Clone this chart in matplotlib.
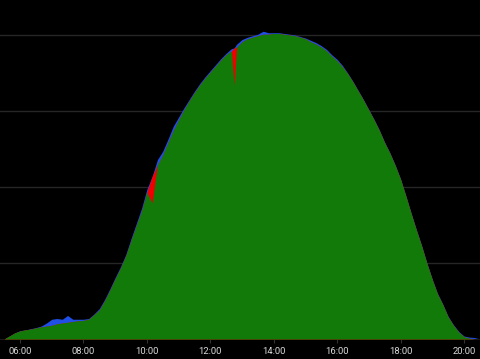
import matplotlib
matplotlib.use("Agg")
import matplotlib.pyplot as plt
import numpy as np

times = ["05:30", "05:40", "05:50", "06:00", "06:10", "06:20", "06:30", "06:40", "06:50",
         "07:00", "07:10", "07:20", "07:30", "07:40", "07:50", "08:00", "08:10", "08:20",
         "08:30", "08:40", "08:50", "09:00", "09:10", "09:20", "09:30", "09:40", "09:50",
         "10:00", "10:10", "10:20", "10:30", "10:40", "10:50", "11:00", "11:10", "11:20",
         "11:30", "11:40", "11:50", "12:00", "12:10", "12:20", "12:30", "12:40", "12:45",
         "12:50", "13:00", "13:10", "13:20", "13:30", "13:40", "13:50", "14:00", "14:10",
         "14:20", "14:30", "14:40", "14:50", "15:00", "15:10", "15:20", "15:30", "15:40",
         "15:50", "16:00", "16:10", "16:20", "16:30", "16:40", "16:50", "17:00", "17:10",
         "17:20", "17:30", "17:40", "17:50", "18:00", "18:10", "18:20", "18:30", "18:40",
         "18:50", "19:00", "19:10", "19:20", "19:30", "19:40", "19:50", "20:00", "20:10",
         "20:20", "20:30"]

green = [0.00, 0.04, 0.08, 0.105, 0.12, 0.13, 0.145, 0.16, 0.17,
         0.18, 0.20, 0.21, 0.22, 0.23, 0.24, 0.245, 0.26, 0.32,
         0.38, 0.50, 0.64, 0.79, 0.93, 1.09, 1.29, 1.49, 1.68,
         1.93, 1.79, 2.29, 2.42, 2.58, 2.74, 2.88, 3.01, 3.13,
         3.24, 3.34, 3.43, 3.51, 3.59, 3.67, 3.74, 3.79, 3.34,
         3.84, 3.91, 3.95, 3.97, 3.99, 4.01, 4.01, 4.02, 4.02,
         4.01, 4.00, 3.99, 3.97, 3.95, 3.91, 3.88, 3.84, 3.79,
         3.72, 3.66, 3.58, 3.49, 3.38, 3.26, 3.14, 3.01, 2.88,
         2.74, 2.58, 2.44, 2.28, 2.10, 1.88, 1.65, 1.43, 1.22,
         0.99, 0.78, 0.59, 0.45, 0.29, 0.18, 0.09, 0.03, 0.01,
         0.00, 0.00]

blue = [0.00, 0.04, 0.08, 0.11, 0.12, 0.135, 0.15, 0.17, 0.21,
        0.26, 0.27, 0.26, 0.31, 0.26, 0.26, 0.26, 0.27, 0.33,
        0.40, 0.52, 0.66, 0.81, 0.95, 1.11, 1.32, 1.52, 1.72,
        1.97, 2.14, 2.36, 2.47, 2.63, 2.80, 2.92, 3.04, 3.15,
        3.26, 3.36, 3.45, 3.53, 3.61, 3.69, 3.76, 3.82, 3.83,
        3.88, 3.94, 3.97, 3.99, 4.01, 4.05, 4.03, 4.03, 4.03,
        4.02, 4.01, 4.00, 3.98, 3.96, 3.93, 3.90, 3.86, 3.81,
        3.74, 3.68, 3.60, 3.50, 3.39, 3.27, 3.15, 3.02, 2.89,
        2.75, 2.59, 2.45, 2.29, 2.11, 1.89, 1.66, 1.44, 1.23,
        1.00, 0.79, 0.60, 0.46, 0.30, 0.19, 0.10, 0.04, 0.025,
        0.02, 0.00]

red = list(green)
red[times.index("10:10")] = 2.14
red[times.index("12:45")] = 3.83

tick_labels = ["06:00", "08:00", "10:00", "12:00", "14:00", "16:00", "18:00", "20:00"]

def to_h(s):
    h, m = s.split(":")
    return int(h) + int(m) / 60.0

t = np.array([to_h(s) for s in times])
ticks = [to_h(s) for s in tick_labels]

plt.rcParams['font.family'] = ['Roboto', 'DejaVu Sans']
fig = plt.figure(figsize=(4.8, 3.59), dpi=100, facecolor='black')
ax = fig.add_axes([0, 20 / 359, 1, 339 / 359])
ax.set_facecolor('black')

ax.fill_between(t, 0, blue, color='#1f4fe6', lw=0, zorder=2)
ax.fill_between(t, 0, red, color='#f00000', lw=0, zorder=3)
ax.fill_between(t, 0, green, color='#117a08', lw=0, zorder=4)

ax.set_xlim(6 - 20 / 31.71, 6 + 460 / 31.71)
ax.set_ylim(0, 339 / 76)
ax.set_yticks([1, 2, 3, 4])
ax.yaxis.grid(True, color='#262626', lw=1.0, zorder=0)
ax.set_axisbelow(True)
ax.tick_params(axis='y', left=False, labelleft=False)
ax.set_xticks(ticks)
ax.set_xticklabels(tick_labels, color='#d8d8d8', fontsize=6.8)
ax.tick_params(axis='x', length=3, color='#333333', pad=3)
for s in ['top', 'right', 'left']:
    ax.spines[s].set_visible(False)
ax.spines['bottom'].set_color('#1a1a1a')

fig.savefig('out.png', dpi=100, facecolor='black')
